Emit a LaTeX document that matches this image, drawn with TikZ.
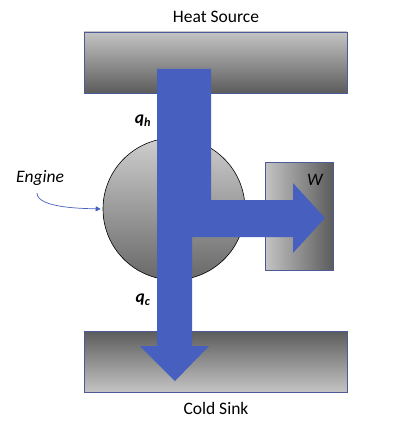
\documentclass[tikz,border=0pt]{standalone}
\usepackage{fontspec}
\setmainfont{Carlito}
\usepackage{tikz}
\usetikzlibrary{arrows.meta, positioning, calc}
\definecolor{flowblue}{RGB}{71, 96, 191}
\definecolor{barline}{RGB}{78, 90, 150}
\definecolor{greylight}{RGB}{196, 196, 196}
\definecolor{greydark}{RGB}{92, 92, 92}
\definecolor{engtop}{RGB}{206, 206, 206}
\definecolor{engbottom}{RGB}{104, 104, 104}
\tikzset{
  bar/.style={rectangle, draw=barline, line width=0.7pt, inner sep=0pt, minimum width=263pt, minimum height=61pt},
  lbl/.style={font=\fontsize{17.5}{20}\selectfont},
  flow/.style={fill=flowblue},
  engarrow/.style={draw=flowblue, line width=0.7pt, -{Triangle[length=5pt,width=5pt]}}
}

\begin{document}
\begin{tikzpicture}[x=1pt, y=-1pt]
\useasboundingbox (0,0) rectangle (400,422);

% Reservoirs
\node[bar, top color=greylight, bottom color=greydark] (src) at (215.5,62.5) {};
\node[bar, top color=greydark, bottom color=greylight] (sink) at (215.5,361.5) {};
\node[lbl] (srclbl) at (216,17) {Heat Source};
\node[lbl] (sinklbl) at (216,408) {Cold Sink};

% Engine and work box
\node[circle, draw=black, line width=0.6pt, minimum size=142pt, inner sep=0pt,
      top color=engtop, bottom color=engbottom] (engine) at (174,209) {};
\node[rectangle, draw=barline, line width=0.7pt, minimum width=68pt, minimum height=108pt, inner sep=0pt,
      left color=greylight, right color=greydark] (wbox) at (299,216) {};

% Heat flow arrow
\fill[flow] (157,69) -- (211,69) -- (211,200) -- (293,200) -- (293,183) -- (325,218)
  -- (293,253) -- (293,237) -- (192,237) -- (192,346) -- (209,346) -- (175,381)
  -- (140,346) -- (157,346) -- cycle;

% Labels
\node[lbl] (qh) at (143,121) {\bfseries\itshape q\textsubscript{h}};
\node[lbl] (qc) at (143,300) {\bfseries\itshape q\textsubscript{c}};
\node[lbl] (wlbl) at (315,180) {\itshape W};
\node[lbl] (englbl) at (40,178) {\itshape Engine};

\coordinate (engtail) at (37,193);
\draw[engarrow] (engtail) to[out=-90, in=178, looseness=0.6] ($(engine.west)+(-2,0)$);

\end{tikzpicture}
\end{document}
